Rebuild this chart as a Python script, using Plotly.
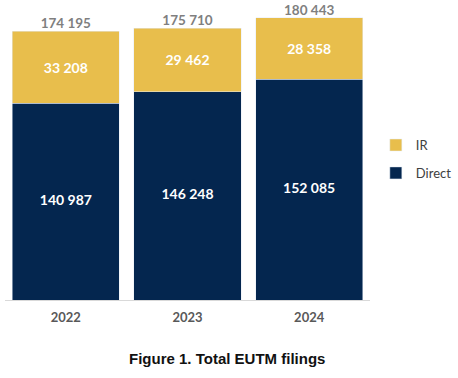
import plotly.graph_objects as go

years = ["2022", "2023", "2024"]
direct = [140987, 146248, 152085]
ir = [33208, 29462, 28358]
totals = [174195, 175710, 180443]
axis_min = 50000
axis_max = 185000

def fmt(v):
    return f"{v:,}".replace(",", " ")

navy = "#04264F"
gold = "#E8BE4C"

fig = go.Figure()
fig.add_trace(go.Bar(
    x=years, y=direct, name="Direct", marker_color=navy,
    textposition="none",
    legendgroup="d", legendrank=2,
))
fig.add_trace(go.Bar(
    x=years, y=ir, name="IR", marker_color=gold,
    text=[f"<b>{fmt(v)}</b>" for v in ir], textposition="inside",
    insidetextanchor="middle",
    textfont=dict(family="Lato", size=14, color="white"),
    legendgroup="i", legendrank=1,
))
# Direct labels centred on the visible part of each bar (axis starts at axis_min)
fig.add_trace(go.Scatter(
    x=years, y=[(axis_min + d) / 2 for d in direct], mode="text",
    text=[f"<b>{fmt(v)}</b>" for v in direct], textposition="middle center",
    showlegend=False, textfont=dict(family="Lato", size=14, color="white"),
))
fig.add_trace(go.Scatter(
    x=years, y=totals, mode="text", text=[f"<b>{fmt(v)}</b>" for v in totals],
    textposition="top center", cliponaxis=False, showlegend=False,
    textfont=dict(family="Lato", size=13.5, color="#7F7F7F"),
))

fig.add_annotation(
    xref="paper", yref="paper", x=(227 - 5) / 365, y=-(358 - 300) / 292,
    yanchor="middle", text="<b>Figure 1. Total EUTM filings</b>",
    showarrow=False, font=dict(family="Liberation Sans", size=15, color="#111111"),
)

fig.update_layout(
    width=458, height=378,
    margin=dict(l=5, r=88, t=8, b=78, autoexpand=False),
    barmode="stack", bargap=0.12,
    plot_bgcolor="white", paper_bgcolor="white",
    showlegend=True,
    legend=dict(
        x=1.016, xanchor="left", y=0.582, yanchor="top",
        traceorder="grouped", tracegroupgap=8,
        font=dict(family="Lato", size=13, color="#404040"),
        itemwidth=30,
    ),
    xaxis=dict(
        type="category", range=[-0.5, 2.5],
        showline=True, linecolor="#D9D9D9", linewidth=1, ticks="",
        tickfont=dict(family="Lato", size=13, color="#595959"),
        tickvals=years, ticktext=[f"<b>{y}</b>" for y in years],
        ticklabelstandoff=5,
    ),
    yaxis=dict(range=[axis_min, axis_max], visible=False, showgrid=False),
)

fig.write_html("out.html", config={"displayModeBar": False},
               post_script="document.body.style.margin='0';")
